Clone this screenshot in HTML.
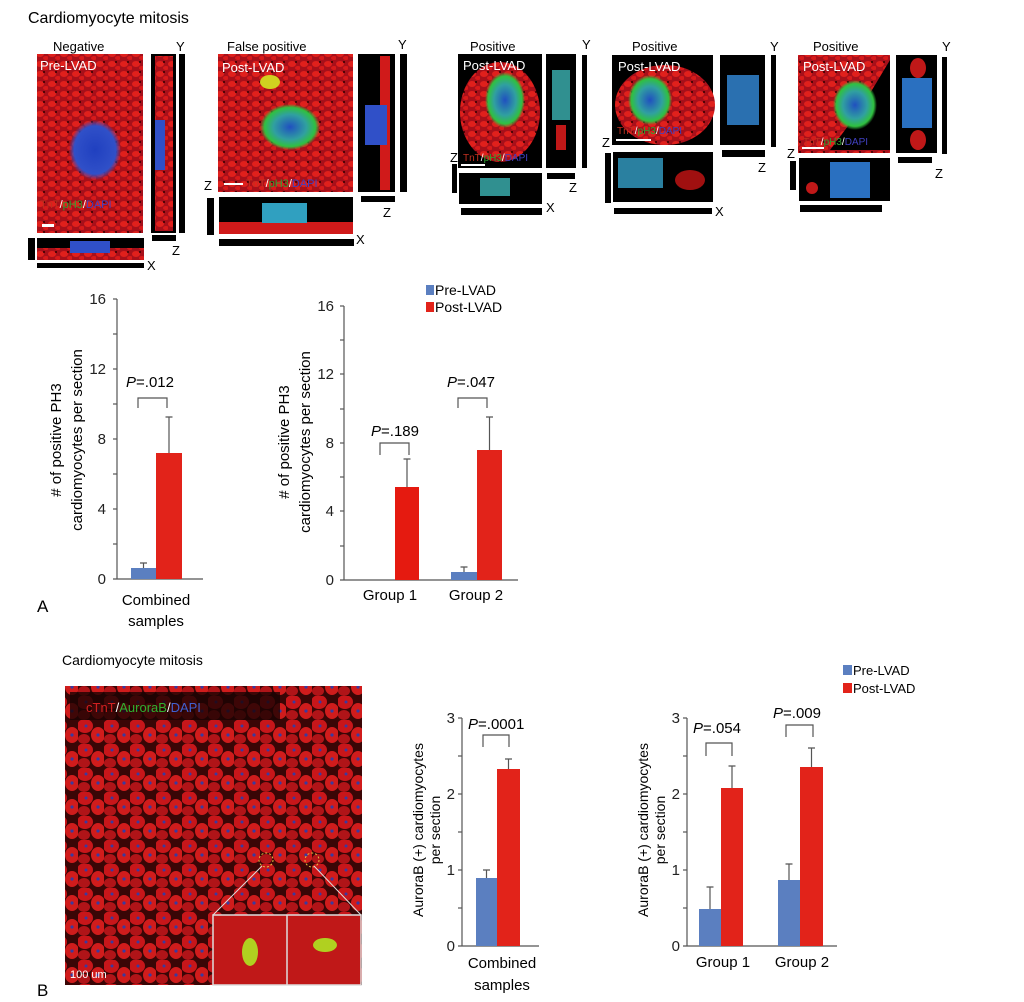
<!DOCTYPE html>
<html><head><meta charset="utf-8"><style>
html,body{margin:0;padding:0;background:#fff}
svg{display:block;font-family:"Liberation Sans",Arial,sans-serif}
</style></head><body>
<svg width="1024" height="1002" viewBox="0 0 1024 1002" xmlns="http://www.w3.org/2000/svg">
<defs>
<pattern id="tis" width="26" height="24" patternUnits="userSpaceOnUse">
<rect width="26" height="24" fill="#3a0606"/>
<ellipse cx="7" cy="6" rx="8" ry="7" fill="#c8161a"/>
<ellipse cx="20" cy="15" rx="7" ry="8" fill="#d01c1c"/>
<ellipse cx="6" cy="19" rx="6" ry="5" fill="#b01418"/>
<circle cx="8" cy="6" r="1.5" fill="#3a3aa0"/>
<circle cx="20" cy="15" r="1.6" fill="#3a3aa0"/>
</pattern>
<pattern id="myo" width="12" height="10" patternUnits="userSpaceOnUse">
<rect width="12" height="10" fill="#a8101a"/>
<ellipse cx="4" cy="4" rx="4" ry="3" fill="#e0201c"/>
<ellipse cx="10" cy="8" rx="3" ry="2" fill="#d81a1a"/>
<circle cx="8" cy="2" r="1" fill="#300"/>
</pattern>
<radialGradient id="nucB"><stop offset="0" stop-color="#2040c0"/><stop offset="0.8" stop-color="#3050c8"/><stop offset="1" stop-color="#3050c8" stop-opacity="0"/></radialGradient>
<radialGradient id="nucG"><stop offset="0" stop-color="#2050c0"/><stop offset="0.55" stop-color="#30a0a0"/><stop offset="0.85" stop-color="#30c040"/><stop offset="1" stop-color="#30c040" stop-opacity="0"/></radialGradient>
</defs>

<text x="28" y="23" font-size="16">Cardiomyocyte mitosis</text>

<!-- Panel 1 -->
<text x="53" y="51" font-size="13">Negative</text>
<text x="176" y="51" font-size="13">Y</text>
<rect x="37" y="54" width="106" height="179" fill="url(#myo)"/>
<ellipse cx="95" cy="150" rx="26" ry="30" fill="url(#nucB)"/>
<text x="40" y="70" font-size="13" fill="#fff">Pre-LVAD</text>
<text x="40" y="208" font-size="11"><tspan fill="#c03020">TnT</tspan><tspan fill="#fff">/</tspan><tspan fill="#30a030">pH3</tspan><tspan fill="#fff">/</tspan><tspan fill="#4040c0">DAPI</tspan></text>
<rect x="42" y="224" width="12" height="3" fill="#fff"/>
<rect x="151" y="54" width="25" height="179" fill="#000"/><rect x="155" y="56" width="18" height="175" fill="url(#myo)"/><rect x="155" y="120" width="10" height="50" fill="#3050c8"/>
<rect x="179" y="54" width="6" height="179" fill="#000"/>
<rect x="37" y="238" width="107" height="22" fill="#000"/><rect x="37" y="248" width="107" height="12" fill="url(#myo)"/><rect x="70" y="241" width="40" height="12" fill="#3050c8"/>
<rect x="28" y="238" width="7" height="22" fill="#000"/>
<rect x="37" y="263" width="107" height="5" fill="#000"/>
<rect x="152" y="235" width="24" height="6" fill="#000"/>
<text x="172" y="255" font-size="13">Z</text><text x="147" y="270" font-size="13">X</text>

<!-- Panel 2 -->
<text x="227" y="51" font-size="13">False positive</text>
<text x="398" y="49" font-size="13">Y</text>
<rect x="218" y="54" width="135" height="138" fill="url(#myo)"/>
<ellipse cx="290" cy="127" rx="30" ry="23" fill="url(#nucG)"/>
<ellipse cx="270" cy="82" rx="10" ry="7" fill="#d0d020"/>
<text x="222" y="72" font-size="13" fill="#fff">Post-LVAD</text>
<text x="246" y="187" font-size="11"><tspan fill="#c03020">TnT</tspan><tspan fill="#fff">/</tspan><tspan fill="#30a030">pH3</tspan><tspan fill="#fff">/</tspan><tspan fill="#4040c0">DAPI</tspan></text>
<rect x="224" y="183" width="19" height="2" fill="#fff"/>
<rect x="358" y="54" width="37" height="138" fill="#000"/><rect x="380" y="56" width="10" height="134" fill="#d01a1a"/><rect x="365" y="105" width="22" height="40" fill="#3050c8"/>
<rect x="400" y="54" width="7" height="138" fill="#000"/>
<rect x="219" y="197" width="134" height="37" fill="#000"/><rect x="219" y="222" width="134" height="12" fill="#d01a1a"/><rect x="262" y="203" width="45" height="20" fill="#30a0c0"/>
<rect x="207" y="198" width="7" height="37" fill="#000"/>
<rect x="219" y="239" width="135" height="7" fill="#000"/>
<rect x="361" y="196" width="34" height="6" fill="#000"/>
<text x="204" y="190" font-size="13">Z</text><text x="383" y="217" font-size="13">Z</text><text x="356" y="244" font-size="13">X</text>

<!-- Panel 3 -->
<text x="470" y="51" font-size="13">Positive</text><text x="582" y="49" font-size="13">Y</text>
<rect x="458" y="54" width="84" height="114" fill="#000"/><ellipse cx="500" cy="112" rx="40" ry="50" fill="url(#myo)"/>
<ellipse cx="505" cy="100" rx="20" ry="28" fill="url(#nucG)"/>
<text x="463" y="70" font-size="13" fill="#fff">Post-LVAD</text>
<text x="463" y="161" font-size="10"><tspan fill="#c03020">TnT</tspan><tspan fill="#fff">/</tspan><tspan fill="#30a030">pH3</tspan><tspan fill="#fff">/</tspan><tspan fill="#4040c0">DAPI</tspan></text>
<rect x="461" y="164" width="24" height="2" fill="#fff"/>
<rect x="546" y="54" width="30" height="114" fill="#000"/><rect x="552" y="70" width="18" height="50" fill="#309090"/><rect x="556" y="125" width="10" height="25" fill="#c01818"/>
<rect x="582" y="55" width="5" height="113" fill="#000"/>
<rect x="459" y="173" width="83" height="31" fill="#000"/><rect x="480" y="178" width="30" height="18" fill="#309090"/>
<rect x="452" y="164" width="5" height="29" fill="#000"/>
<rect x="461" y="208" width="81" height="7" fill="#000"/>
<rect x="547" y="173" width="28" height="6" fill="#000"/>
<text x="450" y="162" font-size="13">Z</text><text x="569" y="192" font-size="13">Z</text><text x="546" y="212" font-size="13">X</text>

<!-- Panel 4 -->
<text x="632" y="51" font-size="13">Positive</text><text x="770" y="51" font-size="13">Y</text>
<rect x="612" y="55" width="101" height="90" fill="#000"/><ellipse cx="665" cy="105" rx="50" ry="40" fill="url(#myo)"/>
<ellipse cx="650" cy="100" rx="22" ry="25" fill="url(#nucG)"/>
<text x="618" y="71" font-size="13" fill="#fff">Post-LVAD</text>
<text x="617" y="134" font-size="10"><tspan fill="#c03020">TnT</tspan><tspan fill="#fff">/</tspan><tspan fill="#30a030">pH3</tspan><tspan fill="#fff">/</tspan><tspan fill="#4040c0">DAPI</tspan></text>
<rect x="616" y="139" width="35" height="2" fill="#fff"/>
<rect x="720" y="55" width="45" height="90" fill="#000"/><rect x="727" y="75" width="32" height="50" fill="#2a70b0"/>
<rect x="771" y="55" width="5" height="92" fill="#000"/>
<rect x="613" y="152" width="100" height="50" fill="#000"/><rect x="618" y="158" width="45" height="30" fill="#2a80a0"/><ellipse cx="690" cy="180" rx="15" ry="10" fill="#a01010"/>
<rect x="605" y="153" width="6" height="50" fill="#000"/>
<rect x="614" y="208" width="98" height="6" fill="#000"/>
<rect x="722" y="150" width="43" height="7" fill="#000"/>
<text x="602" y="147" font-size="13">Z</text><text x="758" y="172" font-size="13">Z</text><text x="715" y="216" font-size="13">X</text>

<!-- Panel 5 -->
<text x="813" y="51" font-size="13">Positive</text><text x="942" y="51" font-size="13">Y</text>
<rect x="798" y="55" width="92" height="98" fill="url(#myo)"/><polygon points="830,150 890,150 890,60 860,110" fill="#000"/>
<ellipse cx="855" cy="105" rx="22" ry="25" fill="url(#nucG)"/>
<text x="803" y="71" font-size="13" fill="#fff">Post-LVAD</text>
<text x="803" y="145" font-size="10"><tspan fill="#c03020">TnT</tspan><tspan fill="#fff">/</tspan><tspan fill="#30a030">pH3</tspan><tspan fill="#fff">/</tspan><tspan fill="#4040c0">DAPI</tspan></text>
<rect x="802" y="147" width="22" height="2" fill="#fff"/>
<rect x="896" y="55" width="41" height="98" fill="#000"/><rect x="902" y="78" width="30" height="50" fill="#2a70c0"/><ellipse cx="918" cy="68" rx="8" ry="10" fill="#c01818"/><ellipse cx="918" cy="140" rx="8" ry="10" fill="#c01818"/>
<rect x="942" y="57" width="5" height="97" fill="#000"/>
<rect x="799" y="158" width="91" height="43" fill="#000"/><rect x="830" y="162" width="40" height="36" fill="#2a70c0"/><circle cx="812" cy="188" r="6" fill="#c01818"/>
<rect x="790" y="161" width="6" height="29" fill="#000"/>
<rect x="800" y="205" width="82" height="7" fill="#000"/>
<rect x="898" y="157" width="34" height="6" fill="#000"/>
<text x="787" y="158" font-size="13">Z</text><text x="935" y="178" font-size="13">Z</text>

<!-- Chart A1 -->
<g stroke="#555" stroke-width="1.2" fill="none">
<line x1="117" y1="299" x2="117" y2="579"/><line x1="113" y1="579" x2="203" y2="579"/>
<line x1="113" y1="299" x2="117" y2="299"/><line x1="113" y1="334" x2="117" y2="334"/><line x1="113" y1="369" x2="117" y2="369"/><line x1="113" y1="404" x2="117" y2="404"/><line x1="113" y1="439" x2="117" y2="439"/><line x1="113" y1="474" x2="117" y2="474"/><line x1="113" y1="509" x2="117" y2="509"/><line x1="113" y1="544" x2="117" y2="544"/>
</g>
<g font-size="15" text-anchor="end" fill="#222"><text x="106" y="304">16</text><text x="106" y="374">12</text><text x="106" y="444">8</text><text x="106" y="514">4</text><text x="106" y="584">0</text></g>
<rect x="131" y="568" width="25" height="11" fill="#5b7fc0"/><rect x="156" y="453" width="26" height="126" fill="#e2231a"/>
<g stroke="#555" stroke-width="1.2" fill="none"><path d="M143.5 568V563M140 563H147M169 453V417M165.5 417H172.5M138 408V398H167V408"/></g>
<text x="150" y="387" font-size="15" text-anchor="middle"><tspan font-style="italic">P</tspan>=.012</text>
<g font-size="15" text-anchor="middle" transform="rotate(-90)"><text x="-440" y="61">#&#160;of positive PH3</text><text x="-440" y="82">cardiomyocytes per section</text></g>
<text x="156" y="605" font-size="15" text-anchor="middle">Combined</text><text x="156" y="626" font-size="15" text-anchor="middle">samples</text>
<text x="37" y="612" font-size="17">A</text>

<!-- Chart A2 -->
<g stroke="#555" stroke-width="1.2" fill="none">
<line x1="344" y1="306" x2="344" y2="580"/><line x1="340" y1="580" x2="518" y2="580"/>
<line x1="340" y1="306" x2="344" y2="306"/><line x1="340" y1="340" x2="344" y2="340"/><line x1="340" y1="374" x2="344" y2="374"/><line x1="340" y1="409" x2="344" y2="409"/><line x1="340" y1="443" x2="344" y2="443"/><line x1="340" y1="477" x2="344" y2="477"/><line x1="340" y1="511" x2="344" y2="511"/><line x1="340" y1="546" x2="344" y2="546"/>
</g>
<g font-size="15" text-anchor="end" fill="#222"><text x="334" y="311">16</text><text x="334" y="379">12</text><text x="334" y="448">8</text><text x="334" y="516">4</text><text x="334" y="585">0</text></g>
<rect x="395" y="487" width="24" height="93" fill="#e51a10"/>
<rect x="451" y="572" width="26" height="8" fill="#5b7fc0"/><rect x="477" y="450" width="25" height="130" fill="#e2231a"/>
<g stroke="#555" stroke-width="1.2" fill="none"><path d="M407 487V459M403.5 459H410.5M464 572V567M460.5 567H467.5M489.5 450V417M486 417H493M380 455V443H409V455M458 408V398H487V408"/></g>
<text x="395" y="436" font-size="15" text-anchor="middle"><tspan font-style="italic">P</tspan>=.189</text>
<text x="471" y="387" font-size="15" text-anchor="middle"><tspan font-style="italic">P</tspan>=.047</text>
<g font-size="15" text-anchor="middle" transform="rotate(-90)"><text x="-442" y="289">#&#160;of positive PH3</text><text x="-442" y="310">cardiomyocytes per section</text></g>
<text x="390" y="600" font-size="15" text-anchor="middle">Group 1</text><text x="476" y="600" font-size="15" text-anchor="middle">Group 2</text>
<rect x="426" y="285" width="8" height="10" fill="#5b7fc0"/><text x="435" y="295" font-size="14">Pre-LVAD</text>
<rect x="426" y="302" width="8" height="10" fill="#e2231a"/><text x="435" y="312" font-size="14">Post-LVAD</text>

<!-- Panel B image -->
<text x="62" y="665" font-size="14">Cardiomyocyte mitosis</text>
<rect x="65" y="686" width="297" height="299" fill="url(#tis)"/>
<rect x="70" y="692" width="210" height="28" fill="#1a0303" opacity="0.8"/>
<text x="86" y="712" font-size="13"><tspan fill="#d02020">cTnT</tspan><tspan fill="#fff">/</tspan><tspan fill="#30b030">AuroraB</tspan><tspan fill="#fff">/</tspan><tspan fill="#4060d0">DAPI</tspan></text>
<circle cx="266" cy="860" r="7" fill="none" stroke="#e0c040" stroke-dasharray="2,2"/><circle cx="312" cy="860" r="7" fill="none" stroke="#e0c040" stroke-dasharray="2,2"/>
<path d="M213 915L262 866M361 915L314 866" stroke="#ddd" stroke-width="1"/>
<rect x="213" y="915" width="148" height="70" fill="#c01818" stroke="#ddd" stroke-width="1.5"/><line x1="287" y1="915" x2="287" y2="985" stroke="#ddd" stroke-width="1.5"/>
<ellipse cx="250" cy="952" rx="8" ry="14" fill="#b0d020"/><ellipse cx="325" cy="945" rx="12" ry="7" fill="#b0d020"/>
<text x="70" y="978" font-size="11" fill="#fff">100 um</text>
<text x="37" y="996" font-size="17">B</text>

<!-- Chart B1 -->
<g stroke="#555" stroke-width="1.2" fill="none">
<line x1="462" y1="718" x2="462" y2="946"/><line x1="458" y1="946" x2="539" y2="946"/>
<line x1="458" y1="718" x2="462" y2="718"/><line x1="458" y1="756" x2="462" y2="756"/><line x1="458" y1="794" x2="462" y2="794"/><line x1="458" y1="832" x2="462" y2="832"/><line x1="458" y1="870" x2="462" y2="870"/><line x1="458" y1="908" x2="462" y2="908"/>
</g>
<g font-size="15" text-anchor="end" fill="#222"><text x="455" y="723">3</text><text x="455" y="799">2</text><text x="455" y="875">1</text><text x="455" y="951">0</text></g>
<rect x="476" y="878" width="21" height="68" fill="#5b7fc0"/><rect x="497" y="769" width="23" height="177" fill="#e2231a"/>
<g stroke="#555" stroke-width="1.2" fill="none"><path d="M486.5 878V870M483 870H490M508.5 769V759M505 759H512M483 747V735H509V747"/></g>
<text x="468" y="729" font-size="15"><tspan font-style="italic">P</tspan>=.0001</text>
<g font-size="14" text-anchor="middle" transform="rotate(-90)"><text x="-830" y="423">AuroraB (+) cardiomyocytes</text><text x="-830" y="440">per section</text></g>
<text x="502" y="968" font-size="15" text-anchor="middle">Combined</text><text x="502" y="990" font-size="15" text-anchor="middle">samples</text>

<!-- Chart B2 -->
<g stroke="#555" stroke-width="1.2" fill="none">
<line x1="687" y1="718" x2="687" y2="946"/><line x1="683" y1="946" x2="837" y2="946"/>
<line x1="683" y1="718" x2="687" y2="718"/><line x1="683" y1="756" x2="687" y2="756"/><line x1="683" y1="794" x2="687" y2="794"/><line x1="683" y1="832" x2="687" y2="832"/><line x1="683" y1="870" x2="687" y2="870"/><line x1="683" y1="908" x2="687" y2="908"/>
</g>
<g font-size="15" text-anchor="end" fill="#222"><text x="680" y="723">3</text><text x="680" y="799">2</text><text x="680" y="875">1</text><text x="680" y="951">0</text></g>
<rect x="699" y="909" width="22" height="37" fill="#5b7fc0"/><rect x="721" y="788" width="22" height="158" fill="#e2231a"/>
<rect x="778" y="880" width="22" height="66" fill="#5b7fc0"/><rect x="800" y="767" width="23" height="179" fill="#e2231a"/>
<g stroke="#555" stroke-width="1.2" fill="none"><path d="M710 909V887M706.5 887H713.5M732 788V766M728.5 766H735.5M789 880V864M785.5 864H792.5M811.5 767V748M808 748H815M706 756V743H732V756M786 737V725H813V737"/></g>
<text x="693" y="733" font-size="15"><tspan font-style="italic">P</tspan>=.054</text>
<text x="773" y="718" font-size="15"><tspan font-style="italic">P</tspan>=.009</text>
<g font-size="14" text-anchor="middle" transform="rotate(-90)"><text x="-830" y="648">AuroraB (+) cardiomyocytes</text><text x="-830" y="665">per section</text></g>
<text x="723" y="967" font-size="15" text-anchor="middle">Group 1</text><text x="802" y="967" font-size="15" text-anchor="middle">Group 2</text>
<rect x="843" y="665" width="9" height="10" fill="#5b7fc0"/><text x="853" y="675" font-size="13">Pre-LVAD</text>
<rect x="843" y="683" width="9" height="10" fill="#e2231a"/><text x="853" y="693" font-size="13">Post-LVAD</text>
</svg>
</body></html>
